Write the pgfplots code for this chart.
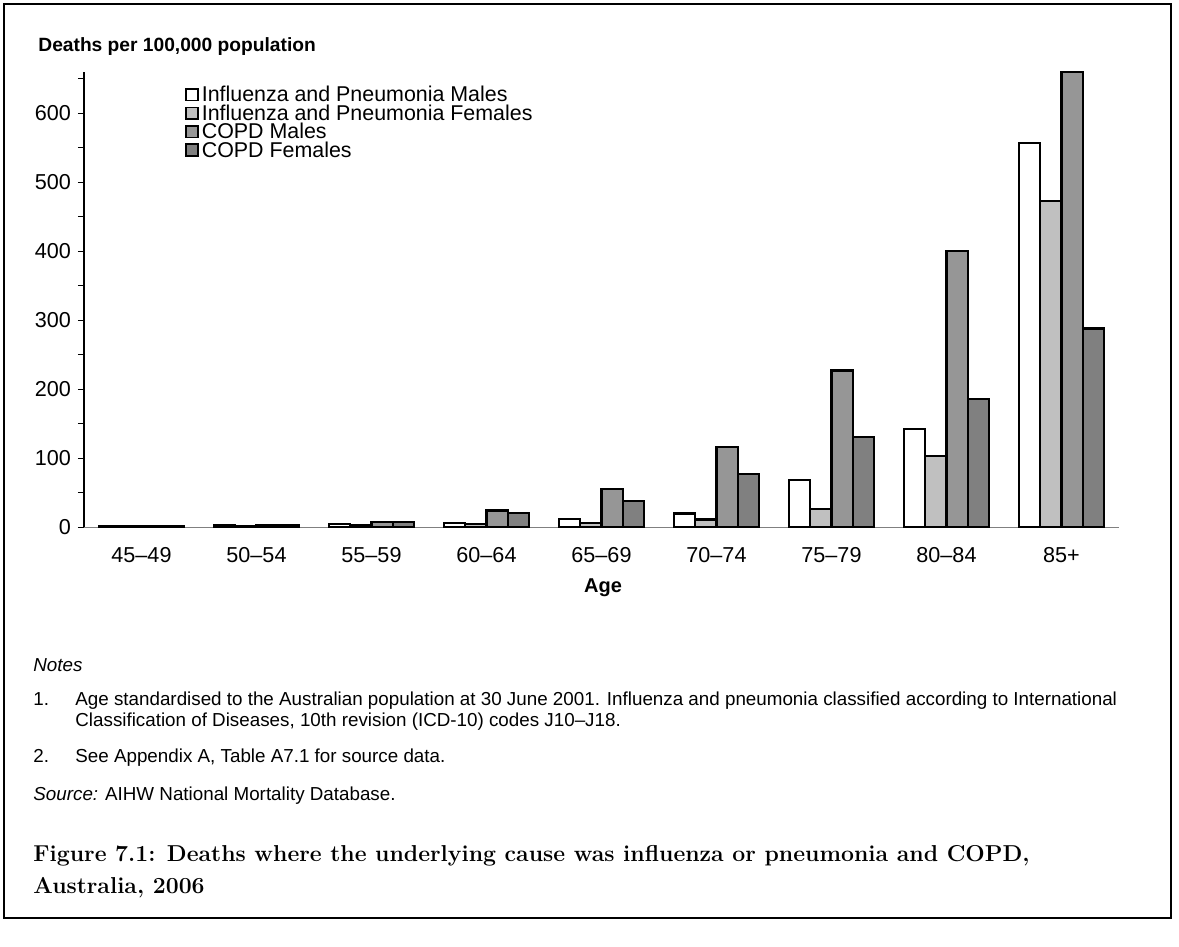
\documentclass[border=0pt]{standalone}
\usepackage{fontspec}
\setmainfont{Liberation Sans}
\newfontfamily\capfont{Latin Modern Roman}
\usepackage{pgfplots}
\pgfplotsset{compat=1.18}
\definecolor{ipfem}{HTML}{C0C0C0}
\definecolor{copdmale}{HTML}{969696}
\definecolor{copdfem}{HTML}{808080}
\pgfplotsset{sqlegend/.style={legend image code/.code={%
  \draw[##1, line width=0.8pt] (0pt,-2.9pt) rectangle (5.8pt,2.9pt);}}}

\begin{document}
\begin{tikzpicture}
% page size in px*0.5pt, y downwards
\path (0pt,0pt) rectangle (589.5pt,-473.5pt);
\draw[line width=1pt] (1.8pt,-1.8pt) rectangle (585.5pt,-459pt);

\node[anchor=base west, inner sep=0pt, font=\bfseries\fontsize{9.6}{11}\selectfont] at (19pt,-26pt) {Deaths per 100,000 population};

\begin{axis}[
    scale only axis,
    width=517.5pt, height=227.5pt,
    at={(42pt,-263.5pt)}, anchor=south west,
    ybar=0pt, bar width=10.6pt,
    xmin=-0.5, xmax=8.5, ymin=0, ymax=660,
    clip=false,
    axis x line=bottom, axis y line=left,
    axis line style={-},
    x axis line style={draw=gray},
    y axis line style={draw=black, line width=0.6pt},
    xtick={0,...,8},
    xticklabels={45–49,50–54,55–59,60–64,65–69,70–74,75–79,80–84,85+},
    x tick style={draw=none},
    xticklabel style={yshift=-3.5pt},
    ytick={0,100,...,600},
    minor ytick={50,150,...,650},
    y tick style={draw=black, line width=0.5pt},
    tick align=outside,
    major tick length=3pt, minor tick length=3pt,
    tick label style={font=\fontsize{10.8}{12}\selectfont},
    /pgf/number format/assume math mode=true,
    legend style={at={(0.0976,0.971)}, anchor=north west, draw=none, fill=none,
        font=\fontsize{10.7}{12}\selectfont, inner sep=0pt, row sep=0pt,
        nodes={inner xsep=1.6pt, inner ysep=1pt, text height=7.2pt, text depth=0pt}},
    legend cell align=left,
    every axis plot/.append style={draw=black, line width=1.1pt},
]
\addplot[fill=white, sqlegend] coordinates {
    (0,1.6) (1,2.5) (2,4.0) (3,5.5) (4,11.5) (5,19.5) (6,68) (7,142) (8,557)};
\addplot[fill=ipfem, sqlegend] coordinates {
    (0,0.8) (1,1.2) (2,2.2) (3,4.2) (4,5.5) (5,11) (6,26) (7,103) (8,473)};
\addplot[fill=copdmale, sqlegend] coordinates {
    (0,1.5) (1,3.0) (2,7.5) (3,24) (4,55) (5,116) (6,227) (7,400) (8,660)};
\addplot[fill=copdfem, sqlegend] coordinates {
    (0,0.8) (1,2.2) (2,7.8) (3,20.5) (4,38) (5,77) (6,131) (7,186) (8,288)};
\legend{Influenza and Pneumonia Males, Influenza and Pneumonia Females, COPD Males, COPD Females}
\end{axis}

\node[font=\bfseries\fontsize{10}{12}\selectfont] at (301.5pt,-294pt) {Age};

\begin{scope}[every node/.style={anchor=base west, inner sep=0pt, font=\fontsize{9.4}{11}\selectfont}]
\node[font=\itshape\fontsize{9.4}{11}\selectfont] at (16.5pt,-335.5pt) {Notes};
\node at (16.5pt,-352.5pt) {1.};
\node at (37.5pt,-352.5pt) {Age standardised to the Australian population at 30 June 2001. Influenza and pneumonia classified according to International};
\node at (37.5pt,-363pt) {Classification of Diseases, 10th revision (ICD-10) codes J10–J18.};
\node at (16.5pt,-381pt) {2.};
\node at (37.5pt,-381pt) {See Appendix A, Table A7.1 for source data.};
\node at (16.5pt,-400pt) {\textit{Source:} AIHW National Mortality Database.};
\end{scope}

\begin{scope}[every node/.style={anchor=base west, inner sep=0pt, font=\capfont\bfseries\fontsize{11.5}{14}\selectfont}]
\node at (16.5pt,-430.5pt) {Figure 7.1: Deaths where the underlying cause was influenza or pneumonia and COPD,};
\node at (16.5pt,-446.5pt) {Australia, 2006};
\end{scope}
\end{tikzpicture}
\end{document}
